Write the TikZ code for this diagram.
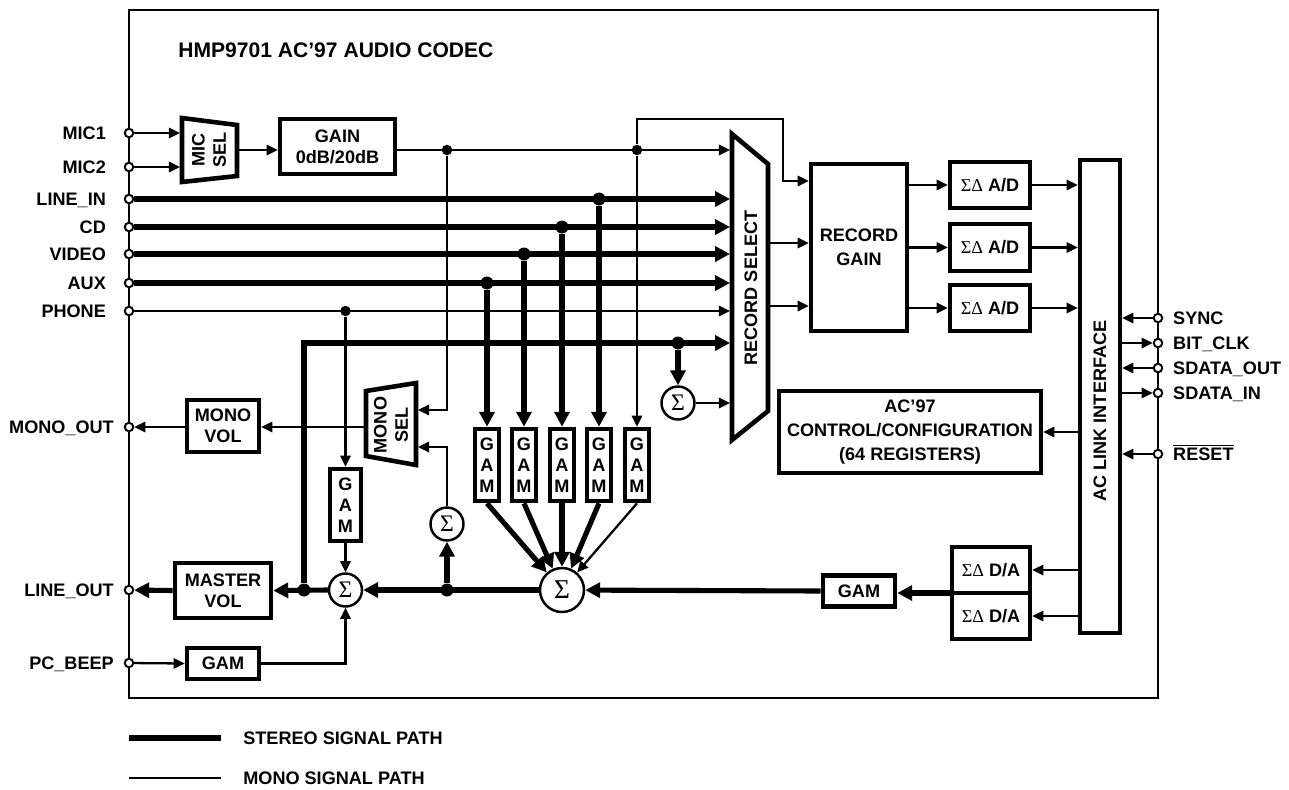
\documentclass[tikz,border=0pt]{standalone}
\usepackage{fontspec}
\setmainfont{Liberation Sans}
\newfontfamily\sigfont{Liberation Serif}
\usetikzlibrary{arrows.meta}
\tikzset{>={Triangle[length=6.3pt,width=5.8pt]}}
\newcommand{\lbl}{\fontsize{10.3}{12}\selectfont\bfseries}
\newcommand{\lblw}{\fontsize{10.3}{13.5}\selectfont\bfseries}
\newcommand{\sig}[1]{{\fontsize{#1}{#1}\selectfont\sigfont\mdseries Σ}}
\newcommand{\sd}{{\sigfont\mdseries ΣΔ}}
\tikzset{
  mono/.style={line width=1.3pt},
  stereo/.style={line width=2.9pt, >={Triangle[length=8.5pt,width=8.5pt]}},
  blk/.style={draw, line width=2.6pt, inner sep=0pt, align=center, font=\lbl},
  wh/.style 2 args={minimum width=#1*0.02cm, minimum height=#2*0.02cm},
  port/.style={circle, draw, fill=white, line width=1.1pt, inner sep=0pt, minimum size=0.17cm},
  jdot/.style={circle, fill, inner sep=0pt, minimum size=0.21cm},
  bdot/.style={circle, fill, inner sep=0pt, minimum size=0.26cm},
  sumn/.style={circle, draw, line width=1.4pt, inner sep=0pt, minimum size=#1*0.02cm},
  txt/.style={font=\lbl, inner sep=0pt, text height=7.4pt, text depth=0pt},
  inL/.style={port, label={[txt,label distance=10pt]left:#1}},
  outL/.style={port, label={[txt,label distance=5.5pt]left:#1}},
  inR/.style={port, label={[txt,label distance=5.5pt]right:#1}},
  trap/.style={line width=2.6pt, line join=miter}
}
\begin{document}
\begin{tikzpicture}[x=0.02cm,y=-0.02cm]
\useasboundingbox (0,0) rectangle (1289,789);
\draw[line width=1.2pt] (129,10) rectangle (1158,698);
\node[font=\fontsize{12}{14}\selectfont\bfseries, anchor=west, inner sep=0pt] (title) at (178,50) {HMP9701 AC'97 AUDIO CODEC};

\node[inL=MIC1] (mic1) at (129,133) {};
\node[inL=MIC2] (mic2) at (129,167) {};
\node[inL=LINE\_IN] (linein) at (129,199) {};
\node[inL=CD] (cd) at (129,227) {};
\node[inL=VIDEO] (video) at (129,254) {};
\node[inL=AUX] (aux) at (129,283) {};
\node[inL=PHONE] (phone) at (129,311) {};
\node[outL=MONO\_OUT] (monoout) at (129,427) {};
\node[outL=LINE\_OUT] (lineout) at (129,590) {};
\node[outL=PC\_BEEP] (pcbeep) at (129,663) {};
\node[inR=SYNC] (sync) at (1158,318) {};
\node[inR=BIT\_CLK] (bitclk) at (1158,343) {};
\node[inR=SDATA\_OUT] (sdataout) at (1158,368) {};
\node[inR=SDATA\_IN] (sdatain) at (1158,393) {};
\node[inR={$\overline{\hbox{RESET}}$}] (reset) at (1158,454) {};

\draw[trap] (182,118) -- (237,125) -- (237,176) -- (182,182) -- cycle;
\node[font=\lbl, align=center, rotate=90] (micsel) at (209,150) {MIC\\SEL};
\coordinate (msin) at (180,150);
\coordinate (msout) at (239,150);
\draw[trap] (732,134) -- (768,164) -- (768,411) -- (732,440) -- cycle;
\node[font=\lbl, rotate=90] (recsel) at (751,288) {RECORD SELECT};
\coordinate (rsin) at (730,288);
\coordinate (rsout1) at (770,243);
\coordinate (rsout2) at (770,306);
\draw[trap] (366,391) -- (416,383) -- (416,465) -- (366,456) -- cycle;
\node[font=\lbl, align=center, rotate=90] (monosel) at (391,425) {MONO\\SEL};
\coordinate (mosin1) at (418,410);
\coordinate (mosin2) at (418,447);
\coordinate (mosout) at (364,427);

\node[blk, wh={115}{55}] (gain) at (337.5,146.5) {GAIN\\0dB/20dB};
\node[blk, font=\lblw, wh={96}{167}] (recgain) at (859,247.5) {RECORD\\GAIN};
\node[blk, wh={80}{46}] (ad1) at (990,185) {\sd{} A/D};
\node[blk, wh={80}{47}] (ad2) at (990,247.5) {\sd{} A/D};
\node[blk, wh={80}{46}] (ad3) at (990,308) {\sd{} A/D};
\node[blk, wh={40}{473}] (aclink) at (1100,396.5) {};
\node[font=\lbl, rotate=90] (aclinkt) at (1100,411) {AC LINK INTERFACE};
\node[blk, font=\lblw, wh={262}{82}] (ctrl) at (910,432) {AC'97\\CONTROL/CONFIGURATION\\(64 REGISTERS)};
\node[blk, wh={78}{46}] (da1) at (991,570) {\sd{} D/A};
\node[blk, wh={78}{46}] (da2) at (991,616) {\sd{} D/A};
\node[blk, wh={72}{31}] (dagam) at (859,591) {GAM};
\node[blk, wh={72}{52}] (monovol) at (223,426) {MONO\\VOL};
\node[blk, wh={96}{55}] (mastervol) at (223,590.5) {MASTER\\VOL};
\node[blk, wh={72}{31}] (beepgam) at (223,663.5) {GAM};
\node[blk, wh={31}{72}] (phgam) at (345.5,505) {G\\A\\M};
\foreach \x/\n in {487/1,524/2,562/3,599/4,637/5}
  \node[blk, wh={24}{72}] (g\n) at (\x,465) {G\\A\\M};

\node[sumn=44] (bigsum) at (562,590) {\sig{15.5}};
\node[sumn=33] (mastersum) at (345.5,590) {\sig{13.5}};
\node[sumn=33] (mixsum) at (447,524) {\sig{13.5}};
\node[sumn=33] (recsum) at (678,403) {\sig{13.5}};

\node[jdot] (dA) at (447,150) {};
\node[jdot] (dB) at (637,150) {};
\node[jdot] (dP) at (345.5,311) {};
\node[bdot] (d1) at (599,199) {};
\node[bdot] (d2) at (562,227) {};
\node[bdot] (d3) at (524,254) {};
\node[bdot] (d4) at (487,283) {};
\node[bdot] (dR) at (678,343) {};
\node[bdot] (dM) at (447,590) {};
\node[bdot] (dO) at (304,590) {};
\coordinate (fb) at (304,343);
\coordinate (lpA) at (637,119);
\coordinate (lpB) at (783,181);
\coordinate (daj) at (950,593);

\draw[mono,->] (mic1) -- (mic1 -| msin);
\draw[mono,->] (mic2) -- (mic2 -| msin);
\draw[mono,->] (msout) -- (gain.west |- msout);
\draw[mono,->] (gain.east |- msout) -- (rsin |- msout);
\draw[mono,->] (dB) -- (lpA) -| (lpB) -- (lpB -| recgain.west);
\draw[mono,->] (dA) |- (mosin1);
\draw[mono,->] (dB) -- (g5.north);
\draw[mono,->] (phone) -- (rsin |- phone);
\draw[mono,->] (dP) -- (phgam.north);
\draw[mono,->] (phgam.south) -- (mastersum.north);
\draw[mono,->] (mosout) -- (monovol.east |- mosout);
\draw[mono,->] (monovol.west |- monoout) -- (monoout);
\draw[mono,->] (mixsum.north) |- (mosin2);
\draw[mono,->] (recsum.east) -- (rsin |- recsum);
\draw[mono,->] (g5.south) -- (bigsum);
\draw[mono,->] (pcbeep) -- (beepgam.west);
\draw[mono,->] (beepgam.east) -| (mastersum.south);
\draw[mono,->] (rsout1) -- (recgain.west |- rsout1);
\draw[mono,->] (rsout2) -- (recgain.west |- rsout2);
\foreach \n in {1,2,3} {
  \draw[mono,->] (recgain.east |- ad\n) -- (ad\n.west);
  \draw[mono,->] (ad\n.east) -- (aclink.west |- ad\n);
}
\draw[mono,->] (aclink.west |- ctrl) -- (ctrl.east);
\draw[mono,->] (aclink.west |- da1) -- (da1.east);
\draw[mono,->] (aclink.west |- da2) -- (da2.east);
\draw[mono,->] (sync) -- (aclink.east |- sync);
\draw[mono,->] (aclink.east |- bitclk) -- (bitclk);
\draw[mono,->] (sdataout) -- (aclink.east |- sdataout);
\draw[mono,->] (aclink.east |- sdatain) -- (sdatain);
\draw[mono,->] (reset) -- (aclink.east |- reset);

\foreach \p/\d/\g in {linein/d1/g4, cd/d2/g3, video/d3/g2, aux/d4/g1} {
  \draw[stereo,->] (\p) -- (rsin |- \p);
  \draw[stereo,->] (\d) -- (\g.north);
}
\foreach \n in {1,...,4}
  \draw[stereo,->] (g\n.south) -- (bigsum);
\draw[stereo,->] (daj) -- (dagam.east |- daj);
\draw[stereo,->] (dagam.west) -- (bigsum);
\draw[stereo,->] (bigsum.west) -- (mastersum.east);
\draw[stereo,->] (dM) -- (mixsum.south);
\draw[stereo,->] (mastersum.west) -- (mastervol.east);
\draw[stereo,->] (mastervol.west) -- (lineout);
\draw[stereo,->] (dO) -- (fb) -- (rsin |- fb);
\draw[stereo,->] (dR) -- (recsum.north);

\draw[stereo] (129,738) -- (221,738);
\node[txt, anchor=west] (lgst) at (243,738) {STEREO SIGNAL PATH};
\draw[mono] (129,778) -- (221,778);
\node[txt, anchor=west] (lgmo) at (243,778) {MONO SIGNAL PATH};
\end{tikzpicture}
\end{document}
